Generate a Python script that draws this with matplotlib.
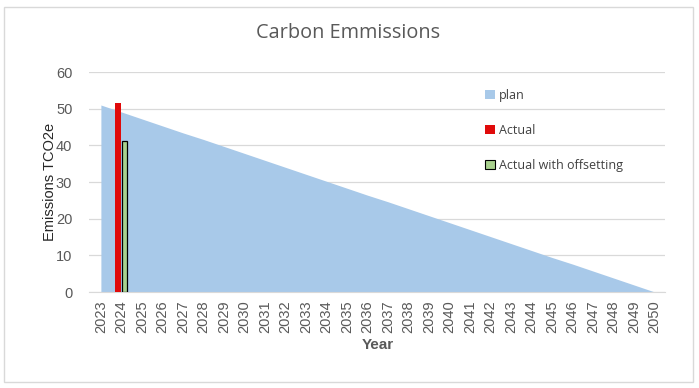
import matplotlib
matplotlib.use("Agg")
import matplotlib.pyplot as plt
from matplotlib.patches import Patch, FancyBboxPatch

years = list(range(2023, 2051))
plan = [51.0, 49.1, 47.2, 45.3, 43.4, 41.6, 39.7, 37.8, 35.9, 34.0, 32.1, 30.2,
        28.3, 26.4, 24.6, 22.7, 20.8, 18.9, 17.0, 15.1, 13.2, 11.3, 9.4, 7.6,
        5.7, 3.8, 1.9, 0.0]
actual_year = [2024]
actual = [51.5]
offset_year = [2024]
actual_offset = [41.3]
yticks = [0, 10, 20, 30, 40, 50, 60]

fig = plt.figure(figsize=(6.99, 3.88), dpi=100)
ax = fig.add_axes([89/699, 1-292/388, (665-89)/699, (292-72)/388])

ax.fill_between(years, plan, 0, color="#A8C9E9", lw=0, zorder=2)
ax.bar([y - 0.17 for y in actual_year], actual, width=0.29, color="#E00A0A", zorder=3)
ax.bar([y + 0.15 for y in offset_year], actual_offset, width=0.2, color="#A9D18E",
       edgecolor="black", linewidth=0.9, zorder=3)

ax.set_xlim(2022.42, 2050.5)
ax.set_ylim(0, 60)
ax.set_yticks(yticks)
ax.set_xticks(years)
ax.set_xticklabels([str(y) for y in years], rotation=90, fontsize=10.5,
                   color="#595959", family="Liberation Sans")
ax.set_yticklabels([str(v) for v in yticks], fontsize=10.5, color="#595959",
                   family="Liberation Sans")
ax.tick_params(axis="x", length=0, pad=6)
ax.tick_params(axis="y", length=0, pad=12)
ax.grid(axis="y", color="#D9D9D9", lw=0.9, zorder=0)
for s in ["top", "right", "left"]:
    ax.spines[s].set_visible(False)
ax.spines["bottom"].set_color("#D9D9D9")
ax.set_axisbelow(True)

ax.set_ylabel("Emissions TCO2e", fontsize=10.5, color="#262626",
              family="Liberation Sans")
ax.yaxis.set_label_coords((57 - 89) / 576, 0.5)
fig.text(378/699, 1-345/388, "Year", ha="center", va="center", fontsize=11,
         fontweight="bold", color="#595959", family="Liberation Sans")
fig.text(348/699, 1-33/388, "Carbon Emmissions", ha="center", va="center",
         fontsize=14.3, color="#595959", family="Open Sans")

handles = [Patch(facecolor="#A8C9E9", edgecolor="none", label="plan"),
           Patch(facecolor="#E00A0A", edgecolor="none", label="Actual"),
           Patch(facecolor="#A9D18E", edgecolor="black", lw=0.8, label="Actual with offsetting")]
leg = ax.legend(handles=handles, loc="upper left",
                bbox_to_anchor=(474/699, 1-78/388), bbox_transform=fig.transFigure,
                frameon=False, labelspacing=1.75, handlelength=0.75,
                handleheight=0.75, handletextpad=0.35,
                prop={"family": "Open Sans", "size": 9})
for t in leg.get_texts():
    t.set_color("#404040")

border = FancyBboxPatch((4/699, 1-382/388), (693-4)/699, (382-7)/388,
                        boxstyle="square,pad=0", transform=fig.transFigure,
                        fill=False, edgecolor="#D9D9D9", lw=1)
fig.patches.append(border)

fig.savefig("out.png", dpi=100, facecolor="white")
